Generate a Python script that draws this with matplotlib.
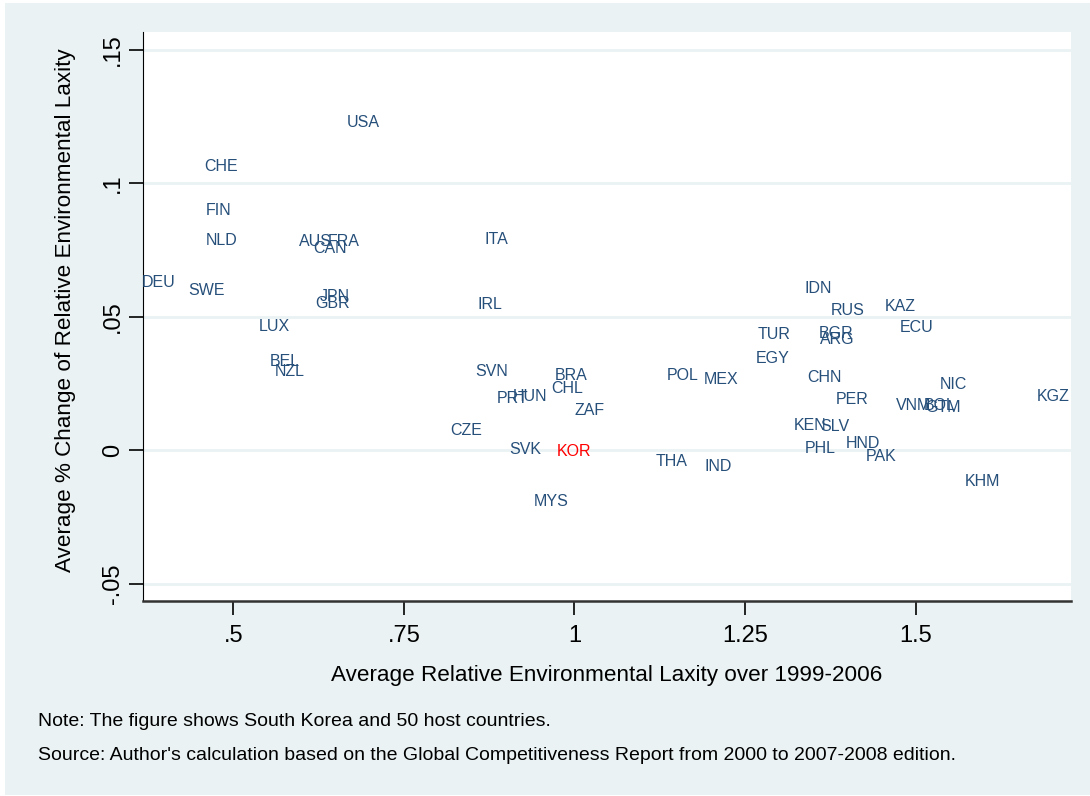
import matplotlib
matplotlib.use("Agg")
import matplotlib.pyplot as plt
from matplotlib.patches import Rectangle

plt.rcParams["font.family"] = ["Liberation Sans", "DejaVu Sans"]

# country codes with average relative laxity (x) and its average % change (y)
countries = [
    "USA", "CHE", "FIN", "NLD", "DEU", "SWE", "AUS", "FRA", "CAN", "JPN",
    "GBR", "ITA", "IRL", "LUX", "BEL", "NZL", "SVN", "PRT", "HUN", "BRA",
    "CHL", "ZAF", "CZE", "SVK", "KOR", "MYS", "THA", "IND", "POL", "MEX",
    "TUR", "EGY", "IDN", "RUS", "KAZ", "ECU", "BGR", "ARG", "CHN", "PER",
    "KEN", "SLV", "PHL", "HND", "PAK", "KHM", "KGZ", "NIC", "VNM", "BOL",
    "GTM",
]
laxity = [
    0.690, 0.482, 0.479, 0.483, 0.391, 0.461, 0.621, 0.661, 0.642, 0.649,
    0.645, 0.885, 0.876, 0.560, 0.576, 0.583, 0.879, 0.909, 0.935, 0.995,
    0.989, 1.022, 0.841, 0.928, 1.000, 0.966, 1.143, 1.211, 1.159, 1.215,
    1.293, 1.290, 1.357, 1.400, 1.478, 1.501, 1.384, 1.385, 1.366, 1.407,
    1.346, 1.381, 1.360, 1.423, 1.450, 1.598, 1.702, 1.555, 1.497, 1.536,
    1.540,
]
change = [
    0.1234, 0.1069, 0.0904, 0.0792, 0.0635, 0.0605, 0.0788, 0.0788, 0.0762, 0.0582,
    0.0556, 0.0796, 0.0552, 0.0470, 0.0339, 0.0302, 0.0301, 0.0200, 0.0208, 0.0287,
    0.0238, 0.0155, 0.0081, 0.0009, 0.0000, -0.0185, -0.0036, -0.0054, 0.0287, 0.0272,
    0.0440, 0.0350, 0.0612, 0.0530, 0.0545, 0.0466, 0.0444, 0.0421, 0.0279, 0.0197,
    0.0099, 0.0096, 0.0013, 0.0032, -0.0017, -0.0110, 0.0208, 0.0253, 0.0174, 0.0174,
    0.0167,
]

xticks = [0.5, 0.75, 1.0, 1.25, 1.5]
xtick_labels = [".5", ".75", "1", "1.25", "1.5"]
yticks = [-0.05, 0.0, 0.05, 0.10, 0.15]
ytick_labels = ["-.05", "0", ".05", ".1", ".15"]

navy = "#264f7a"
bg = "#eaf2f3"

fig = plt.figure(figsize=(10.9, 7.96), dpi=100)
fig.patch.set_facecolor("white")
fig.patches.append(Rectangle((5 / 1090, 1 / 796), 1 - 5 / 1090, 1 - 4 / 796,
                             transform=fig.transFigure, facecolor=bg,
                             edgecolor="none", zorder=-10))

ax = fig.add_axes([0.1315, 0.2450, 0.8511, 0.7148])
ax.set_facecolor("white")

# labels centred on the points, no markers
for name, x, y in zip(countries, laxity, change):
    color = "red" if name == "KOR" else navy
    ax.text(x, y, name, ha="center", va="center_baseline", fontsize=11.5,
            color=color, zorder=3)

ax.set_xlim(0.368, 1.728)
ax.set_ylim(-0.0564, 0.1567)

ax.set_xticks(xticks)
ax.set_xticklabels(xtick_labels, fontsize=17)
ax.set_yticks(yticks)
ax.set_yticklabels(ytick_labels, fontsize=17, rotation=90, va="center")
ax.tick_params(axis="both", length=10, width=1.2, color="black")
ax.tick_params(axis="x", pad=7)
ax.tick_params(axis="y", pad=4)

ax.grid(axis="y", color=bg, linewidth=2)
ax.set_axisbelow(True)
for side in ["top", "right"]:
    ax.spines[side].set_visible(False)
ax.spines["left"].set_color("black")
ax.spines["bottom"].set_color("#333333")
ax.spines["bottom"].set_linewidth(1.8)

fig.text(0.5569, 1 - 676 / 796, "Average Relative Environmental Laxity over 1999-2006",
         ha="center", va="center", fontsize=16.2)
fig.text(66 / 1090, 1 - 310 / 796, "Average % Change of Relative Environmental Laxity",
         ha="center", va="center", rotation=90, fontsize=16.2)

fig.text(38 / 1090, 1 - 722 / 796,
         "Note: The figure shows South Korea and 50 host countries.",
         ha="left", va="center", fontsize=14)
fig.text(38 / 1090, 1 - 755 / 796,
         "Source: Author's calculation based on the Global Competitiveness Report from 2000 to 2007-2008 edition.",
         ha="left", va="center", fontsize=14)

fig.savefig("out.png", dpi=100, facecolor=fig.get_facecolor())
